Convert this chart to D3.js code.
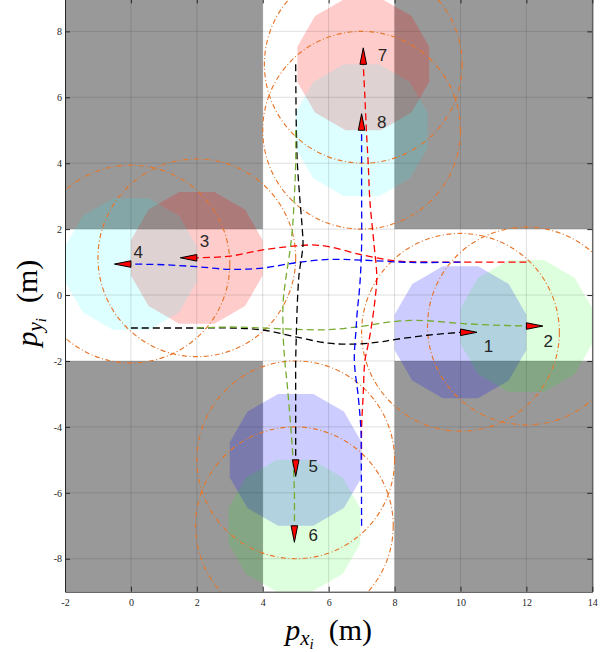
<!DOCTYPE html>
<html>
<head>
<meta charset="utf-8">
<script src="https://cdn.jsdelivr.net/npm/d3@7"></script>
<style>
  body { margin: 0; background: #fff; }
  svg { display: block; }
</style>
</head>
<body>
<div id="chart"></div>
<script>
// Robot states (m)
const robotIds = [1, 2, 3, 4, 5, 6, 7, 8];
const robotX = [10, 12, 2, 0, 5, 4.96, 7.05, 7];
const robotY = [-1.13, -0.94, 1.13, 0.94, -5, -7, 7, 5];
const robotHeading = [0, 0, 180, 180, -90, -90, 90, 90];
const robotFill = ["#0000ff", "#00ff00", "#ff0000", "#00ffff", "#0000ff", "#00ff00", "#ff0000", "#00ffff"];
const labelX = [10.85, 12.66, 2.23, 0.22, 5.53, 5.53, 7.63, 7.61];
const labelY = [-1.57, -1.42, 1.62, 1.3, -5.21, -7.28, 7.28, 5.24];
const bodyRadius = 2;     // apothem of the 12-gon footprint
const safetyRadius = 3;

// obstacles: [x0, x1, y0, y1]
const obstacles = [[-2, 4, 2, 9], [8, 14, 2, 9], [-2, 4, -9, -2], [8, 14, -9, -2]];

// travelled paths
const traj1 = [[0, -1.0], [2, -1.0], [3, -1.0], [4, -1.06], [5, -1.27], [6, -1.46], [6.75, -1.49], [7.5, -1.43], [8, -1.35], [9, -1.22], [10, -1.13]];
const traj2 = [[2, -1.0], [3, -0.97], [4, -1.0], [5, -1.04], [6, -1.05], [7, -0.95], [7.75, -0.83], [8.5, -0.77], [9, -0.78], [10, -0.86], [11, -0.91], [12, -0.94]];
const traj3 = [[12, 1.0], [10, 1.0], [8.5, 1.01], [8, 1.04], [7, 1.22], [6, 1.47], [5.5, 1.52], [5, 1.49], [4, 1.37], [3, 1.18], [2, 1.13]];
const traj4 = [[10, 1.0], [8.5, 0.99], [7, 1.06], [6, 1.08], [5, 0.98], [4, 0.82], [3, 0.78], [2, 0.86], [1, 0.92], [0, 0.94]];
const traj5 = [[5, 7], [5.02, 5], [5.05, 4], [5.12, 3], [5.2, 2], [5.22, 1.5], [5.1, 0.6], [5.04, -0.5], [5.02, -1.2], [5, -2], [5, -3], [5, -5]];
const traj6 = [[5, 5], [5, 4], [4.96, 3], [4.9, 2], [4.83, 1.37], [4.7, 0.5], [4.62, -0.2], [4.62, -1.2], [4.67, -2], [4.75, -2.8], [4.85, -4], [4.92, -5], [4.96, -6], [4.96, -7]];
const traj7 = [[7, -5], [7, -4], [7.05, -3], [7.1, -2], [7.2, -1.5], [7.28, -1.06], [7.4, -0.2], [7.46, 0.56], [7.38, 1.5], [7.25, 2.88], [7.2, 4], [7.15, 4.9], [7.1, 6], [7.05, 7]];
const traj8 = [[7, -7], [6.99, -5], [6.98, -4.1], [6.9, -3.1], [6.78, -2], [6.83, -1.06], [6.86, -0.6], [6.95, 0.36], [7, 1.5], [7, 3], [7, 5]];
const trajectories = [traj1, traj2, traj3, traj4, traj5, traj6, traj7, traj8];
const trajColor = ["#000000", "#77ac30", "#ff0000", "#0000ff", "#000000", "#77ac30", "#ff0000", "#0000ff"];

const xTicks = [-2, 0, 2, 4, 6, 8, 10, 12, 14];
const yTicks = [-8, -6, -4, -2, 0, 2, 4, 6, 8];

const W = 608, H = 652;
const pLeft = 65, pRight = 592.3, pTop = -1.6, pBottom = 591.7;

const svg = d3.select("#chart").append("svg")
    .attr("width", W)
    .attr("height", H);

const x = d3.scaleLinear().domain([-2, 14]).range([pLeft, pRight]);
const y = d3.scaleLinear().domain([-9, 9]).range([pBottom, pTop]);

svg.append("clipPath")
    .attr("id", "plot-clip")
    .append("rect")
    .attr("x", pLeft)
    .attr("y", pTop)
    .attr("width", pRight - pLeft)
    .attr("height", pBottom - pTop);

const plot = svg.append("g").attr("clip-path", "url(#plot-clip)");

// obstacles
plot.selectAll(".obstacle")
    .data(obstacles)
    .enter().append("rect")
    .attr("class", "obstacle")
    .attr("x", d => x(d[0]))
    .attr("y", d => y(d[3]))
    .attr("width", d => x(d[1]) - x(d[0]))
    .attr("height", d => y(d[2]) - y(d[3]))
    .attr("fill", "#999999");

// robot footprints (12-gon)
const circumR = bodyRadius / Math.cos(Math.PI / 12);
function footprint(i) {
    let pts = [];
    for (let k = 0; k < 12; k++) {
        let a = Math.PI / 12 + k * Math.PI / 6;
        pts.push([x(robotX[i] + circumR * Math.cos(a)), y(robotY[i] + circumR * Math.sin(a))]);
    }
    return "M" + pts.join("L") + "Z";
}

plot.selectAll(".body")
    .data(robotIds)
    .enter().append("path")
    .attr("class", "body")
    .attr("d", (d, i) => footprint(i))
    .attr("fill", (d, i) => robotFill[i])
    .attr("fill-opacity", (d, i) => (robotFill[i] === "#0000ff" || robotFill[i] === "#ff0000") ? 0.2 : 0.13);

// grid
plot.selectAll(".gx")
    .data(xTicks)
    .enter().append("line")
    .attr("x1", d => x(d)).attr("x2", d => x(d))
    .attr("y1", pTop).attr("y2", pBottom)
    .attr("stroke", "#262626").attr("stroke-opacity", 0.15);

plot.selectAll(".gy")
    .data(yTicks)
    .enter().append("line")
    .attr("y1", d => y(d)).attr("y2", d => y(d))
    .attr("x1", pLeft).attr("x2", pRight)
    .attr("stroke", "#262626").attr("stroke-opacity", 0.15);

// safety circles
plot.selectAll(".safety")
    .data(robotIds)
    .enter().append("ellipse")
    .attr("cx", (d, i) => x(robotX[i]))
    .attr("cy", (d, i) => y(robotY[i]))
    .attr("rx", x(safetyRadius) - x(0))
    .attr("ry", y(0) - y(safetyRadius))
    .attr("fill", "none")
    .attr("stroke", "#e6762a")
    .attr("stroke-width", 1.15)
    .attr("stroke-dasharray", "5 2.5 1 2.5");

// trajectories
const line = d3.line()
    .x(d => x(d[0]))
    .y(d => y(d[1]))
    .curve(d3.curveCatmullRom);

plot.selectAll(".traj")
    .data(trajectories)
    .enter().append("path")
    .attr("d", line)
    .attr("fill", "none")
    .attr("stroke", (d, i) => trajColor[i])
    .attr("stroke-width", 1.3)
    .attr("stroke-dasharray", "7 4");

// heading markers
function marker(i) {
    let a = robotHeading[i] * Math.PI / 180;
    let dx = Math.cos(a), dy = Math.sin(a);
    let px = robotX[i], py = robotY[i];
    let tip = [x(px + 0.5 * dx), y(py + 0.5 * dy)];
    let b1 = [x(px - 0.1 * dy), y(py + 0.1 * dx)];
    let b2 = [x(px + 0.1 * dy), y(py - 0.1 * dx)];
    return "M" + [tip, b1, b2].join("L") + "Z";
}

plot.selectAll(".marker")
    .data(robotIds)
    .enter().append("path")
    .attr("d", (d, i) => marker(i))
    .attr("fill", "#ff0000")
    .attr("stroke", "#000")
    .attr("stroke-width", 1)
    .attr("stroke-linejoin", "miter");

plot.selectAll(".label")
    .data(robotIds)
    .enter().append("text")
    .attr("x", (d, i) => x(labelX[i]))
    .attr("y", (d, i) => y(labelY[i]))
    .attr("text-anchor", "middle")
    .attr("dominant-baseline", "central")
    .attr("font-family", "'Liberation Sans', Arial, sans-serif")
    .attr("font-size", 17)
    .attr("fill", "#262626")
    .text(d => d);

// axes (ticks inside, box)
const fmt = d => String(d);
const axB = svg.append("g").attr("transform", "translate(0," + pBottom + ")")
    .call(d3.axisBottom(x).tickValues(xTicks).tickSize(-5).tickSizeOuter(0).tickPadding(7).tickFormat(fmt));
const axT = svg.append("g").attr("transform", "translate(0," + pTop + ")")
    .call(d3.axisTop(x).tickValues(xTicks).tickSize(-5).tickSizeOuter(0).tickFormat(""));
const axL = svg.append("g").attr("transform", "translate(" + pLeft + ",0)")
    .call(d3.axisLeft(y).tickValues(yTicks).tickSize(-5).tickSizeOuter(0).tickPadding(3).tickFormat(fmt));
const axR = svg.append("g").attr("transform", "translate(" + pRight + ",0)")
    .call(d3.axisRight(y).tickValues(yTicks).tickSize(-5).tickSizeOuter(0).tickFormat(""));

[axB, axT, axL, axR].forEach(function(g) {
    g.selectAll("path, line").attr("stroke", "#262626");
    g.selectAll("text")
        .attr("fill", "#262626")
        .attr("font-family", "'Liberation Serif', 'Times New Roman', serif")
        .attr("font-size", 10);
});

// axis labels
const xl = svg.append("text")
    .attr("x", (pLeft + pRight) / 2)
    .attr("y", 640)
    .attr("text-anchor", "middle")
    .attr("font-family", "'Liberation Serif', 'Times New Roman', serif")
    .attr("font-size", 30)
    .attr("fill", "#000");
xl.append("tspan").attr("font-style", "italic").text("p");
xl.append("tspan").attr("font-style", "italic").attr("font-size", 21).attr("dy", 5).text("x");
xl.append("tspan").attr("font-style", "italic").attr("font-size", 15).attr("dy", 4).text("i");
xl.append("tspan").attr("dy", -9).text("\u2002(m)");

const yl = svg.append("text")
    .attr("transform", "translate(37," + ((pTop + pBottom) / 2 + 8) + ") rotate(-90)")
    .attr("text-anchor", "middle")
    .attr("font-family", "'Liberation Serif', 'Times New Roman', serif")
    .attr("font-size", 30)
    .attr("fill", "#000");
yl.append("tspan").attr("font-style", "italic").text("p");
yl.append("tspan").attr("font-style", "italic").attr("font-size", 21).attr("dy", 5).text("y");
yl.append("tspan").attr("font-style", "italic").attr("font-size", 15).attr("dy", 4).text("i");
yl.append("tspan").attr("dy", -9).text("\u2002(m)");
</script>
</body>
</html>
